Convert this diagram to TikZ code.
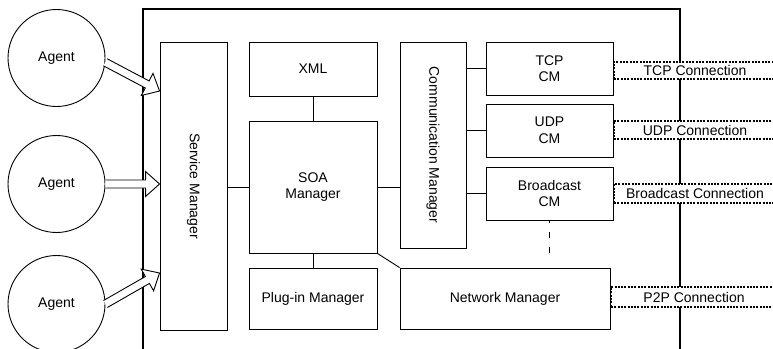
\documentclass[tikz,border=0pt]{standalone}
\usepackage{fontspec}
\setmainfont{Liberation Sans}
\usetikzlibrary{calc}
\newcommand{\hollowarrow}[2]{%
  \coordinate (ha) at (#1); \coordinate (hb) at (#2);
  \coordinate (hh) at ($(hb)!14pt!(ha)$);
  \draw[fill=white, line width=0.9pt, line join=miter]
    ($(ha)!4pt!90:(hb)$) -- ($(hh)!4pt!-90:(ha)$) -- ($(hh)!12.5pt!-90:(ha)$)
    -- (hb) -- ($(hh)!12.5pt!90:(ha)$) -- ($(hh)!4pt!90:(ha)$) -- ($(ha)!4pt!-90:(hb)$);}
\begin{document}
\begin{tikzpicture}[x=1pt,y=-1pt,
  font=\fontsize{14}{16.5}\selectfont,
  box/.style={draw, line width=0.9pt, inner sep=0pt, align=center},
  agent/.style={draw, circle, line width=0.9pt, minimum size=97, inner sep=0pt},
  conn/.style={draw, line width=1.1pt, dash pattern=on 2pt off 1.3pt, fill=white,
    inner sep=0pt, minimum width=162, minimum height=17},
  link/.style={line width=0.9pt}]
\useasboundingbox (0,0) rectangle (773,348);
\clip (0,0) rectangle (773,348);
% frame
\draw[line width=1.1pt] (143,360) -- (143,9) -- (680,9) -- (680,360);
% agents
\node[agent] (a1) at (56.5,58) {Agent};
\node[agent] (a2) at (56.5,184) {Agent};
\node[agent] (a3) at (56.5,304) {Agent};
% boxes
\node[box, minimum width=67, minimum height=288,
  label={[rotate=-90]center:Service Manager}] (sm) at (193.5,186) {};
\node[box, minimum width=128, minimum height=54] (xml) at (313,69) {XML};
\node[box, minimum width=128, minimum height=132] (soa) at (313,187) {SOA\\Manager};
\node[box, minimum width=128, minimum height=61] (plug) at (313,298.5) {Plug-in Manager};
\node[box, minimum width=66, minimum height=206,
  label={[rotate=-90]center:Communication Manager}] (cm) at (433,145) {};
\node[box, minimum width=210, minimum height=61] (nm) at (505,298.5) {Network Manager};
\node[box, minimum width=127, minimum height=53] (tcp) at (549.5,68.5) {TCP\\CM};
\node[box, minimum width=127, minimum height=53] (udp) at (549.5,130.5) {UDP\\CM};
\node[box, minimum width=127, minimum height=53] (bc) at (549.5,193.5) {Broadcast\\CM};
% connections
\node[conn] (tcpc) at (695,70.5) {TCP Connection};
\node[conn, minimum height=18] (udpc) at (695,130) {UDP Connection};
\node[conn, minimum height=19] (bcc) at (695,193.5) {Broadcast Connection};
\node[conn, minimum height=20, minimum width=166] (p2pc) at (694,297) {P2P Connection};
% arrows
\coordinate (t1) at (sm.west |- 0,91);
\coordinate (t3) at (sm.west |- 0,273);
\hollowarrow{a1.-5}{t1}
\hollowarrow{a2.east}{sm.west |- a2.east}
\hollowarrow{a3.east}{t3}
% links
\draw[link] (soa.west) -- (soa.west -| sm.east);
\draw[link] (xml.south) -- (soa.north);
\draw[link] (soa.east) -- (soa.east -| cm.west);
\draw[link] (soa.south) -- (plug.north);
\draw[link] (soa.south east) -- (nm.north west);
\draw[link] (tcp.west -| cm.east) -- (tcp.west);
\draw[link] (udp.west -| cm.east) -- (udp.west);
\draw[link] (bc.west -| cm.east) -- (bc.west);
\coordinate (dend) at (bc.south |- 0,258);
\draw[link, dash pattern=on 6pt off 9pt, dash phase=3pt] (bc.south) -- (dend);
\end{tikzpicture}
\end{document}
